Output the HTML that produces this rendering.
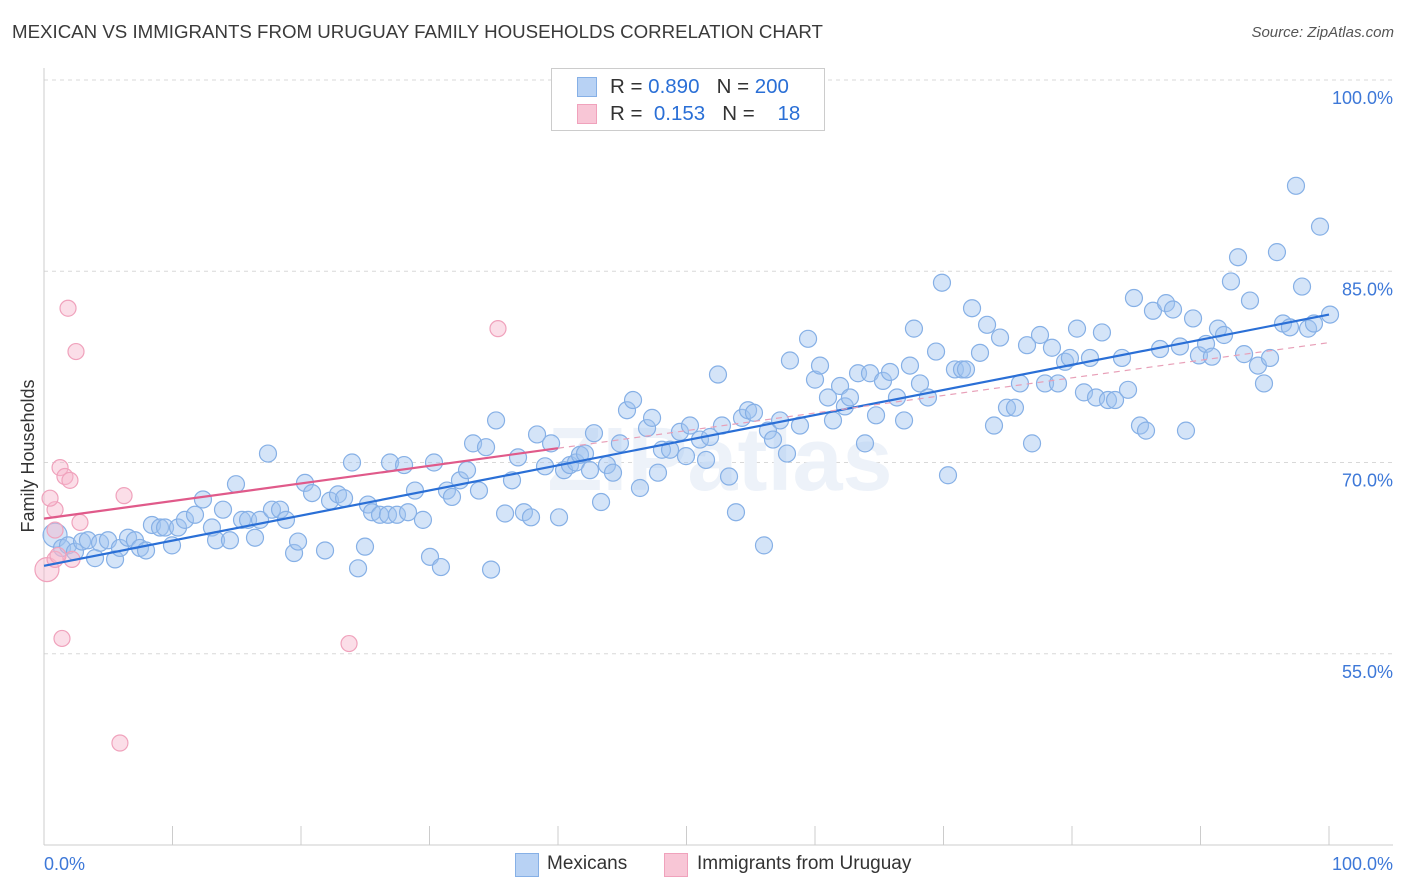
<!DOCTYPE html>
<html><head><meta charset="utf-8">
<style>
body{margin:0;background:#fff;font-family:"Liberation Sans",sans-serif;}
#wrap{position:relative;width:1406px;height:892px;overflow:hidden;}
.t{position:absolute;white-space:nowrap;}
</style></head>
<body>
<div id="wrap">
<div class="t" style="left:12px;top:21px;font-size:18.7px;color:#3a3a3a;">MEXICAN VS IMMIGRANTS FROM URUGUAY FAMILY HOUSEHOLDS CORRELATION CHART</div>
<div class="t" style="right:12px;top:24px;font-size:15px;color:#555;font-style:italic;">Source: ZipAtlas.com</div>
<svg id="plot" width="1406" height="892" style="position:absolute;left:0;top:0"></svg>
</div>
<script>
const yTicks=[100,85,70,55];
const yTickLabels=["100.0%","85.0%","70.0%","55.0%"];
const xTickLabels=["0.0%","100.0%"];
const mexX=[0.86,1.4,1.87,2.41,2.96,3.42,3.97,4.36,4.98,5.53,5.91,6.54,7.08,7.47,7.94,8.40,9.03,9.42,9.96,10.43,10.97,11.75,12.37,13.07,13.39,13.93,14.47,14.94,15.41,15.88,16.42,16.81,17.43,17.74,18.37,18.83,19.46,19.77,20.31,20.86,21.87,22.26,22.88,23.35,23.97,24.44,24.98,25.21,25.53,26.15,26.77,26.93,27.47,28.02,28.33,28.87,29.49,30.04,30.35,30.89,31.36,31.75,32.37,32.92,33.39,33.85,34.40,34.79,35.18,35.88,36.42,36.89,37.35,37.90,38.37,38.99,39.46,40.08,40.47,40.93,41.40,41.71,42.10,42.49,42.80,43.35,43.81,44.28,44.82,45.37,45.84,46.38,46.93,47.32,47.78,48.09,48.72,49.49,49.96,50.27,51.05,51.52,51.83,52.45,52.76,53.31,53.85,54.32,54.79,55.25,56.03,56.34,56.73,57.28,57.82,58.05,58.83,59.46,60.00,60.39,61.01,61.40,61.95,62.33,62.72,63.35,63.89,64.28,64.75,65.29,65.84,66.38,66.93,67.39,67.70,68.17,68.79,69.42,69.88,70.35,70.89,71.44,71.75,72.22,72.84,73.39,73.93,74.40,74.94,75.56,75.95,76.50,76.89,77.51,77.90,78.44,78.91,79.46,79.84,80.39,80.93,81.40,81.87,82.33,82.80,83.35,83.89,84.36,84.82,85.29,85.76,86.30,86.85,87.32,87.86,88.40,88.87,89.42,89.88,90.43,90.89,91.36,91.83,92.37,92.92,93.39,93.85,94.47,94.94,95.41,95.95,96.42,96.96,97.43,97.90,98.37,98.83,99.30,100.08];
const mexY=[64.3,63.3,63.5,63.0,63.8,63.9,62.5,63.7,63.9,62.4,63.3,64.1,63.9,63.3,63.1,65.1,64.9,64.9,63.5,64.9,65.5,65.9,67.1,64.9,63.9,66.3,63.9,68.3,65.5,65.5,64.1,65.5,70.7,66.3,66.3,65.5,62.9,63.8,68.4,67.6,63.1,67.0,67.5,67.2,70.0,61.7,63.4,66.7,66.1,65.9,65.9,70.0,65.9,69.8,66.1,67.8,65.5,62.6,70.0,61.8,67.8,67.3,68.6,69.4,71.5,67.8,71.2,61.6,73.3,66.0,68.6,70.4,66.1,65.7,72.2,69.7,71.5,65.7,69.4,69.8,70.0,70.6,70.7,69.4,72.3,66.9,69.8,69.2,71.5,74.1,74.9,68.0,72.7,73.5,69.2,71.0,71.0,72.4,70.5,72.9,71.8,70.2,72.0,76.9,72.9,68.9,66.1,73.5,74.1,73.9,63.5,72.5,71.8,73.3,70.7,78.0,72.9,79.7,76.5,77.6,75.1,73.3,76.0,74.4,75.1,77.0,71.5,77.0,73.7,76.4,77.1,75.1,73.3,77.6,80.5,76.2,75.1,78.7,84.1,69.0,77.3,77.3,77.3,82.1,78.6,80.8,72.9,79.8,74.3,74.3,76.2,79.2,71.5,80.0,76.2,79.0,76.2,77.9,78.2,80.5,75.5,78.2,75.1,80.2,74.9,74.9,78.2,75.7,82.9,72.9,72.5,81.9,78.9,82.5,82.0,79.1,72.5,81.3,78.4,79.3,78.3,80.5,80.0,84.2,86.1,78.5,82.7,77.6,76.2,78.2,86.5,80.9,80.6,91.7,83.8,80.5,80.9,88.5,81.6];
const uruX=[0.23,0.86,0.86,0.86,1.25,1.4,1.63,1.87,2.02,2.18,2.49,2.80,5.91,6.23,35.33,23.74,1.09,0.47];
const uruY=[61.6,66.3,64.7,62.4,69.6,56.2,68.9,82.1,68.6,62.4,78.7,65.3,48.0,67.4,80.5,55.8,62.7,67.2];
const mexTrend=[61.9,81.6]; // y at x=0, x=100
const uruTrend=[65.6,79.4];

const X0=44,X1=1329,YTOP=80,YPX=12.75;
const sx=v=>X0+(X1-X0)*v/100;
const sy=v=>YTOP+(100-v)*YPX;
const svg=document.getElementById('plot');
const NS="http://www.w3.org/2000/svg";
function mk(tag,attrs,name){const e=document.createElementNS(NS,tag);for(const k in attrs)e.setAttribute(k,attrs[k]);


svg.appendChild(e);return e;}
yTicks.forEach((t,i)=>{
 mk('line',{x1:X0,x2:1393,y1:sy(t),y2:sy(t),stroke:'#d8d8d8','stroke-dasharray':'4,4'},'grid-line');
 const tx=mk('text',{x:1393,y:sy(t)+24,'text-anchor':'end','font-size':18,fill:'#3d78d8','font-family':'Liberation Sans'},'y-tick-label');tx.textContent=yTickLabels[i];
});
mk('line',{x1:X0,x2:X0,y1:68,y2:845,stroke:'#ccc'},'y-axis');
mk('line',{x1:X0,x2:1393,y1:845,y2:845,stroke:'#ccc'},'x-axis');
for(let i=1;i<=10;i++){mk('line',{x1:sx(i*10),x2:sx(i*10),y1:826,y2:845,stroke:'#ccc'},'x-tick');}
let t1=mk('text',{x:44,y:870,'font-size':18,fill:'#3d78d8','font-family':'Liberation Sans'},'x-tick-label');t1.textContent=xTickLabels[0];
let t2=mk('text',{x:1393,y:870,'text-anchor':'end','font-size':18,fill:'#3d78d8','font-family':'Liberation Sans'},'x-tick-label');t2.textContent=xTickLabels[1];
let yt=mk('text',{x:34,y:456,'font-size':18,fill:'#333','text-anchor':'middle',transform:'rotate(-90 34 456)','font-family':'Liberation Sans'},'y-axis-title');yt.textContent='Family Households';
let wm=mk('text',{x:720,y:490,'text-anchor':'middle','font-size':90,fill:'#edf2f9','font-family':'Liberation Sans','font-weight':'bold'},'watermark');wm.textContent='ZIPatlas';
mexX.forEach((x,i)=>{mk('circle',{cx:sx(x),cy:sy(mexY[i]),r:i===0?12:8.5,fill:'rgba(160,196,240,0.45)',stroke:'#86b0e6','stroke-width':1.2},'mexican-point');});
uruX.forEach((x,i)=>{mk('circle',{cx:sx(x),cy:sy(uruY[i]),r:i===0?12:8,fill:'rgba(247,182,204,0.45)',stroke:'#f0a2bc','stroke-width':1.2},'uruguay-point');});
mk('line',{x1:sx(0),y1:sy(mexTrend[0]),x2:sx(100),y2:sy(mexTrend[1]),stroke:'#2a6fd6','stroke-width':2.2},'mexican-trend-line');
const uAt=x=>uruTrend[0]+(uruTrend[1]-uruTrend[0])*x/100;
mk('line',{x1:sx(0),y1:sy(uAt(0)),x2:sx(40),y2:sy(uAt(40)),stroke:'#e05a8a','stroke-width':2.2},'uruguay-trend-line');
mk('line',{x1:sx(40),y1:sy(uAt(40)),x2:sx(100),y2:sy(uAt(100)),stroke:'#e8a0b8','stroke-width':1.2,'stroke-dasharray':'6,5'},'uruguay-trend-extension');
</script>
<div class="t" style="left:551px;top:68px;width:272px;height:61px;border:1px solid #ccc;background:#fff;font-size:20.5px;">
 <div style="position:absolute;left:25px;top:8px;width:18px;height:18px;background:#b8d2f4;border:1px solid #86b0e6"></div>
 <div class="t" style="left:58px;top:6px;color:#333">R = <span style="color:#2a6fd6">0.890</span>&nbsp;&nbsp;&nbsp;N = <span style="color:#2a6fd6">200</span></div>
 <div style="position:absolute;left:25px;top:35px;width:18px;height:18px;background:#f8c6d6;border:1px solid #f0a2bc"></div>
 <div class="t" style="left:58px;top:33px;color:#333">R = &nbsp;<span style="color:#2a6fd6">0.153</span>&nbsp;&nbsp;&nbsp;N = &nbsp;&nbsp;&nbsp;<span style="color:#2a6fd6">18</span></div>
</div>
<div class="t" style="left:515px;top:853px;width:22px;height:22px;background:#b8d2f4;border:1px solid #86b0e6"></div>
<div class="t" style="left:547px;top:853px;font-size:19px;color:#333">Mexicans</div>
<div class="t" style="left:664px;top:853px;width:22px;height:22px;background:#f8c6d6;border:1px solid #f0a2bc"></div>
<div class="t" style="left:697px;top:853px;font-size:19px;color:#333">Immigrants from Uruguay</div>
</body></html>
